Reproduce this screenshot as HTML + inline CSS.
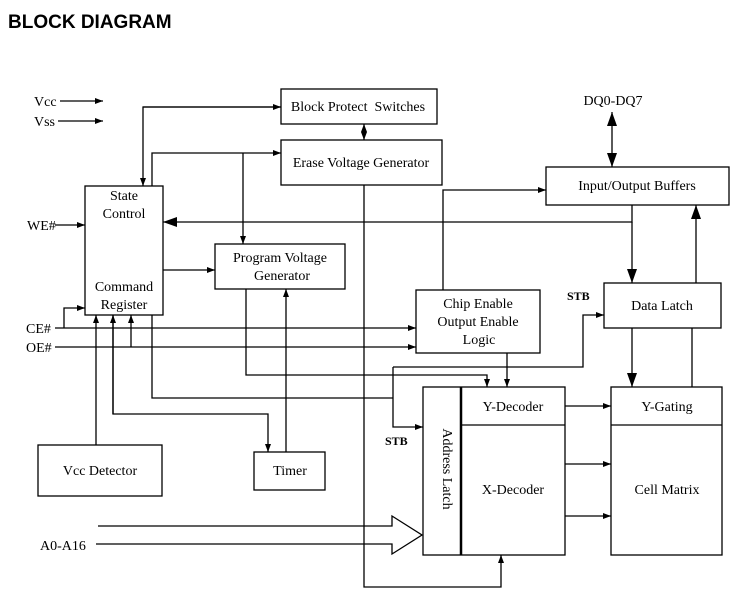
<!DOCTYPE html>
<html><head><meta charset="utf-8"><style>
html,body{margin:0;padding:0;background:#fff;}
svg{display:block;}
text{font-family:"Liberation Serif",serif;font-size:14px;fill:#000;}
.t{font-family:"Liberation Sans",sans-serif;font-weight:bold;font-size:19px;}
.b{font-weight:bold;font-size:12px;}
</style></head><body>
<svg width="735" height="596" viewBox="0 0 735 596" xmlns="http://www.w3.org/2000/svg">
<defs>
<marker id="a" markerWidth="8" markerHeight="6" refX="8" refY="3" orient="auto" markerUnits="userSpaceOnUse"><path d="M0,0 L8,3 L0,6 z" fill="#000"/></marker>
<marker id="s" markerWidth="8" markerHeight="6" refX="0" refY="3" orient="auto" markerUnits="userSpaceOnUse"><path d="M8,0 L0,3 L8,6 z" fill="#000"/></marker>
<marker id="A" markerWidth="14" markerHeight="10" refX="14" refY="5" orient="auto" markerUnits="userSpaceOnUse"><path d="M0,0 L14,5 L0,10 z" fill="#000"/></marker>
<marker id="As" markerWidth="14" markerHeight="10" refX="0" refY="5" orient="auto" markerUnits="userSpaceOnUse"><path d="M14,0 L0,5 L14,10 z" fill="#000"/></marker>
</defs>
<text class="t" x="8" y="28">BLOCK DIAGRAM</text>
<g fill="none" stroke="#000" stroke-width="1.3">
<rect x="281" y="89" width="156" height="35"/>
<rect x="281" y="140" width="161" height="45"/>
<rect x="85" y="186" width="78" height="129"/>
<rect x="215" y="244" width="130" height="45"/>
<rect x="546" y="167" width="183" height="38"/>
<rect x="604" y="283" width="117" height="45"/>
<rect x="416" y="290" width="124" height="63"/>
<rect x="423" y="387" width="142" height="168"/>
<rect x="611" y="387" width="111" height="168"/>
<rect x="38" y="445" width="124" height="51"/>
<rect x="254" y="452" width="71" height="38"/>
<path d="M611,425 H722 M461,425 H565"/>
<path d="M461,387 V555" stroke-width="2.5"/>
<path d="M60,101 H103" marker-end="url(#a)"/>
<path d="M58,121 H103" marker-end="url(#a)"/>
<path d="M281,107 H143 V186" marker-end="url(#a)"/>
<path d="M143,107 H281" marker-end="url(#a)"/>
<path d="M152,186 V153 H281" marker-end="url(#a)"/>
<path d="M243,153 V244" marker-end="url(#a)"/>
<path d="M364,124 V140" marker-end="url(#a)" marker-start="url(#s)" />
<path d="M55,225 H85" marker-end="url(#a)"/>
<path d="M632,205 V222 H163" marker-end="url(#A)"/>
<path d="M632,222 V283" marker-end="url(#A)"/>
<path d="M696,283 V205" marker-end="url(#A)"/>
<path d="M612,112 V167" marker-end="url(#A)" marker-start="url(#As)"/>
<path d="M443,290 V190 H546" marker-end="url(#a)"/>
<path d="M163,270 H215" marker-end="url(#a)"/>
<path d="M55,328 H416" marker-end="url(#a)"/>
<path d="M64,328 V308 H85" marker-end="url(#a)"/>
<path d="M55,347 H416" marker-end="url(#a)"/>
<path d="M131,347 V315" marker-end="url(#a)"/>
<path d="M96,445 V315" marker-end="url(#a)"/>
<path d="M113,315 V414 H268 V452" marker-end="url(#a)"/>
<path d="M113,414 V315" marker-end="url(#a)"/>
<path d="M152,315 V398 H393"/>
<path d="M393,367 V427 H423" marker-end="url(#a)"/>
<path d="M393,367 H583 V315 H604" marker-end="url(#a)"/>
<path d="M246,289 V375 H487 V387" marker-end="url(#a)"/>
<path d="M286,452 V289" marker-end="url(#a)"/>
<path d="M507,353 V387" marker-end="url(#a)"/>
<path d="M364,185 V587 H501 V555" marker-end="url(#a)"/>
<path d="M565,406 H611" marker-end="url(#a)"/>
<path d="M565,464 H611" marker-end="url(#a)"/>
<path d="M565,516 H611" marker-end="url(#a)"/>
<path d="M632,328 V387" marker-end="url(#A)"/>
<path d="M692,328 V387"/>
<path d="M98,526 H392 V516 L422,535 L392,554 V544 H96"/>
</g>
<text x="34" y="106">Vcc</text>
<text x="34" y="126">Vss</text>
<text x="27" y="230">WE#</text>
<text x="26" y="333">CE#</text>
<text x="26" y="352">OE#</text>
<text x="40" y="550">A0-A16</text>
<text x="358" y="111" text-anchor="middle" xml:space="preserve">Block Protect  Switches</text>
<text x="361" y="167" text-anchor="middle">Erase Voltage Generator</text>
<text x="124" y="200" text-anchor="middle">State</text>
<text x="124" y="218" text-anchor="middle">Control</text>
<text x="124" y="291" text-anchor="middle">Command</text>
<text x="124" y="309" text-anchor="middle">Register</text>
<text x="280" y="262" text-anchor="middle">Program Voltage</text>
<text x="282" y="280" text-anchor="middle">Generator</text>
<text x="637" y="190" text-anchor="middle">Input/Output Buffers</text>
<text x="662" y="310" text-anchor="middle">Data Latch</text>
<text x="478" y="308" text-anchor="middle">Chip Enable</text>
<text x="478" y="326" text-anchor="middle">Output Enable</text>
<text x="479" y="344" text-anchor="middle">Logic</text>
<text x="513" y="411" text-anchor="middle">Y-Decoder</text>
<text x="513" y="494" text-anchor="middle">X-Decoder</text>
<text x="667" y="411" text-anchor="middle">Y-Gating</text>
<text x="667" y="494" text-anchor="middle">Cell Matrix</text>
<text x="100" y="475" text-anchor="middle">Vcc Detector</text>
<text x="290" y="475" text-anchor="middle">Timer</text>
<text x="613" y="105" text-anchor="middle">DQ0-DQ7</text>
<text class="b" x="567" y="300">STB</text>
<text class="b" x="385" y="445">STB</text>
<text transform="translate(443,469) rotate(90)" text-anchor="middle">Address Latch</text>
</svg>
</body></html>
